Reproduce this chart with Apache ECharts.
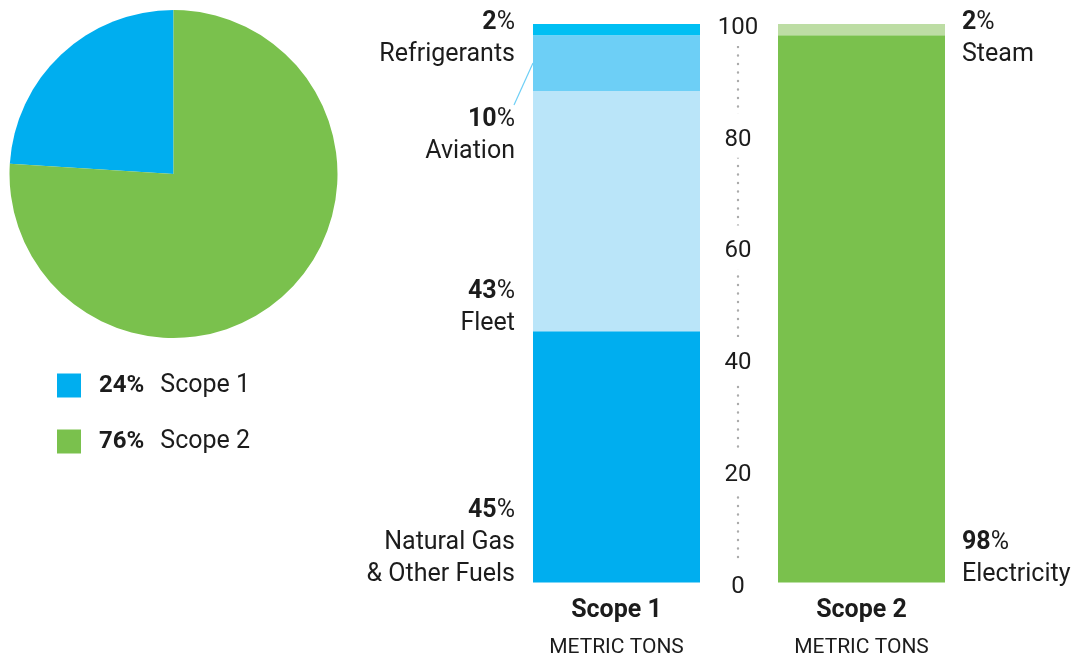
<!DOCTYPE html>
<html>
<head>
<meta charset="utf-8">
<title>Emissions by Scope</title>
<script src="https://cdn.jsdelivr.net/npm/echarts@6/dist/echarts.min.js"></script>
<style>
  html, body { margin: 0; padding: 0; background: #fff; }
  #chart { width: 1083px; height: 658px; }
</style>
</head>
<body>
<div id="chart"></div>
<script>
// ---- data ----
const categories = ['Scope 1', 'Scope 2'];
const categorySubtitle = 'METRIC TONS';

const scopeNames = ['Scope 1', 'Scope 2'];
const scopeShares = [24, 76];

const scope1Sources = ['Natural Gas\n& Other Fuels', 'Fleet', 'Aviation', 'Refrigerants'];
const scope1Values = [45, 43, 10, 2];

const scope2Sources = ['Electricity', 'Steam'];
const scope2Values = [98, 2];

const yTicks = { min: 0, max: 100, interval: 20 };

// ---- styling ----
const FONT = 'Roboto';
const TEXT = '#1c1c1c';
const SCOPE_COLORS = ['#00AEEF', '#7AC14D'];
const SCOPE1_COLORS = ['#00AEEF', '#BAE5F9', '#6DCFF6', '#00BFF3'];
const SCOPE2_COLORS = ['#7AC14D', '#BDDDA4'];
// vertical nudge of each source label, measured from the bottom of its segment
const SCOPE1_LABEL_SHIFT = [8, 9, 77, 36];
const SCOPE2_LABEL_SHIFT = [8, 36];
const BAR_WIDTH = 167;
const LABEL_GAP = 18;

const labelRich = {
  b: { fontFamily: FONT, fontSize: 25, fontWeight: 'bold', color: TEXT, lineHeight: 32 },
  r: { fontFamily: FONT, fontSize: 25, color: TEXT, lineHeight: 32 },
  n: { fontFamily: FONT, fontSize: 25, color: TEXT, lineHeight: 32 }
};

function sourceItem(value, name, color, side, shift) {
  const left = side === 'left';
  const lines = name.split('\n').map(s => '{n|' + s + '}').join('\n');
  return {
    value: value,
    name: name,
    itemStyle: { color: color },
    label: {
      show: true,
      position: left ? [0, '100%'] : ['100%', '100%'],
      offset: [left ? -LABEL_GAP : LABEL_GAP - 1, shift],
      align: left ? 'right' : 'left',
      verticalAlign: 'bottom',
      formatter: '{b|' + value + '}{r|%}\n' + lines,
      rich: labelRich
    }
  };
}

// one stacked layer per source position: layer i holds the i-th source of each scope
const layerCount = Math.max(scope1Values.length, scope2Values.length);
const barSeries = [];
for (let i = 0; i < layerCount; i++) {
  const d1 = i < scope1Values.length
    ? sourceItem(scope1Values[i], scope1Sources[i], SCOPE1_COLORS[i], 'left', SCOPE1_LABEL_SHIFT[i])
    : '-';
  const d2 = i < scope2Values.length
    ? sourceItem(scope2Values[i], scope2Sources[i], SCOPE2_COLORS[i], 'right', SCOPE2_LABEL_SHIFT[i])
    : '-';
  barSeries.push({
    type: 'bar',
    stack: 'sources',
    barWidth: BAR_WIDTH,
    silent: true,
    animation: false,
    data: [d1, d2]
  });
}

const chart = echarts.init(document.getElementById('chart'), null, { renderer: 'canvas' });

const option = {
  backgroundColor: '#fff',
  animation: false,
  textStyle: { fontFamily: FONT },
  grid: { left: 494, width: 490, top: 24, bottom: 70 },
  legend: {
    orient: 'vertical',
    left: 57,
    top: 373,
    padding: 0,
    itemWidth: 24,
    itemHeight: 24,
    itemGap: 31,
    icon: 'rect',
    selectedMode: false,
    data: scopeNames,
    formatter: function (name) {
      const i = scopeNames.indexOf(name);
      return '{p|' + scopeShares[i] + '%}{n|' + name + '}';
    },
    textStyle: {
      lineHeight: 24,
      rich: {
        p: { fontFamily: FONT, fontSize: 24, fontWeight: 'bold', color: TEXT, padding: [0, 0, 0, 13] },
        n: { fontFamily: FONT, fontSize: 25, color: TEXT, padding: [0, 0, 0, 16] }
      }
    }
  },
  xAxis: {
    type: 'category',
    data: categories,
    axisLine: { show: false },
    axisTick: { show: false },
    axisLabel: {
      margin: 10,
      formatter: function (v) { return '{a|' + v + '}\n{s|' + categorySubtitle + '}'; },
      rich: {
        a: { fontFamily: FONT, fontSize: 25, fontWeight: 'bold', color: TEXT, lineHeight: 36 },
        s: { fontFamily: FONT, fontSize: 21, color: TEXT, lineHeight: 38 }
      }
    }
  },
  yAxis: {
    type: 'value',
    min: yTicks.min,
    max: yTicks.max,
    interval: yTicks.interval,
    position: 'left',
    offset: -244,
    splitLine: { show: false },
    axisTick: { show: false },
    axisLine: {
      show: true,
      lineStyle: { color: '#ababab', width: 2.4, type: [0.1, 8.4], cap: 'round' }
    },
    axisLabel: {
      margin: 0,
      align: 'center',
      backgroundColor: '#fff',
      padding: [4, 4, 6, 4],
      formatter: function (v) { return '{v|' + v + '}'; },
      rich: {
        v: { fontFamily: FONT, fontSize: 24, color: TEXT, padding: [10, 0, 0, 0] }
      }
    }
  },
  series: [
    {
      type: 'pie',
      center: [173.5, 174],
      radius: 164,
      startAngle: 90,
      clockwise: false,
      silent: true,
      animation: false,
      label: { show: false },
      labelLine: { show: false },
      data: scopeNames.map((n, i) => ({ name: n, value: scopeShares[i], itemStyle: { color: SCOPE_COLORS[i] } }))
    }
  ].concat(barSeries)
};

chart.setOption(option);

// leader line tying the Aviation label to its segment
(function () {
  const aviationIdx = scope1Sources.indexOf('Aviation');
  const below = scope1Values.slice(0, aviationIdx).reduce((a, b) => a + b, 0);
  const top = below + scope1Values[aviationIdx];
  const pTop = chart.convertToPixel({ xAxisIndex: 0, yAxisIndex: 0 }, [0, top]);
  const pBottom = chart.convertToPixel({ xAxisIndex: 0, yAxisIndex: 0 }, [0, below]);
  const barLeft = pTop[0] - BAR_WIDTH / 2;
  const startY = pTop[1] + (pBottom[1] - pTop[1]) * 0.5;
  chart.setOption({
    graphic: [{
      type: 'line',
      silent: true,
      shape: { x1: barLeft, y1: startY, x2: barLeft - LABEL_GAP - 1, y2: pBottom[1] + 14 },
      style: { stroke: '#6DCFF6', lineWidth: 1.2 }
    }]
  });
})();
</script>
</body>
</html>
